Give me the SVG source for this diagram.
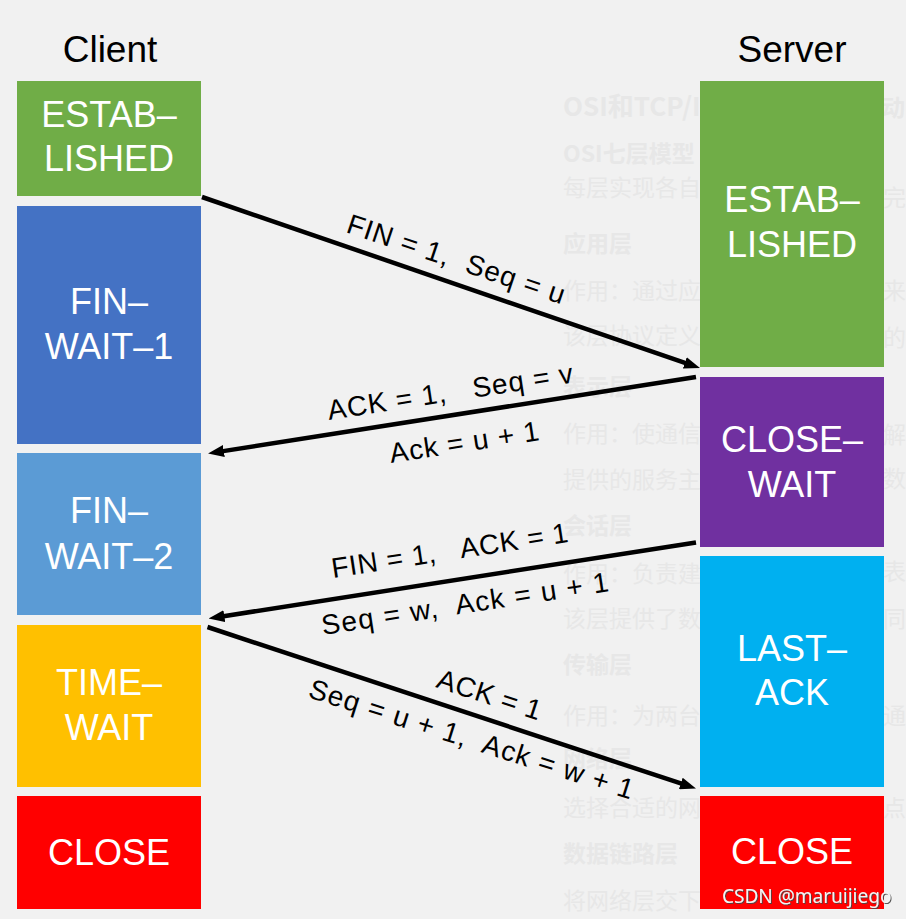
<svg xmlns="http://www.w3.org/2000/svg" width="906" height="919" viewBox="0 0 906 919">
<defs>
<style>
.bg{fill:#f1f1f1}
.wm{font-family:"Noto Sans CJK SC","Liberation Sans",sans-serif;font-size:23px;fill:#e7e7e7}
.wmb{font-weight:bold}
.hd{font-family:"Liberation Sans",Arial,sans-serif;font-size:37px;fill:#000;text-anchor:middle}
.st{font-family:"Liberation Sans",Arial,sans-serif;font-size:36px;fill:#fff;text-anchor:middle}
.lb{font-family:"Liberation Sans",Arial,sans-serif;font-size:28px;fill:#000}
.ar{stroke:#000;stroke-width:4.5;fill:none;marker-end:url(#head)}
.cs{font-family:"Noto Sans","Liberation Sans",sans-serif;font-size:19px;fill:#f4f4f4;filter:url(#sh)}
</style>
<marker id="head" viewBox="0 0 16 12" refX="4" refY="6" markerWidth="16" markerHeight="12" orient="auto" markerUnits="userSpaceOnUse">
<path d="M0,0 L16,6 L0,12 z" fill="#000"/>
</marker>
<filter id="sh" x="-10%" y="-30%" width="120%" height="160%">
<feDropShadow dx="1" dy="1" stdDeviation="0.6" flood-color="#444" flood-opacity="0.9"/>
</filter>
</defs>
<rect class="bg" x="0" y="0" width="906" height="919"/>
<g id="watermark">
<text class="wm wmb" x="563" y="116" style="font-size:26px">OSI和TCP/IP</text>
<text class="wm wmb" x="882" y="116">动</text>
<text class="wm wmb" x="563" y="162">OSI七层模型</text>
<text class="wm" x="563" y="196">每层实现各自</text>
<text class="wm" x="883" y="206">完</text>
<text class="wm wmb" x="563" y="252">应用层</text>
<text class="wm" x="563" y="299">作用：通过应</text>
<text class="wm" x="883" y="299">来</text>
<text class="wm" x="563" y="344">该层协议定义</text>
<text class="wm" x="883" y="346">的</text>
<text class="wm wmb" x="563" y="395">表示层</text>
<text class="wm" x="563" y="442">作用：使通信</text>
<text class="wm" x="883" y="443">解</text>
<text class="wm" x="563" y="488">提供的服务主</text>
<text class="wm" x="883" y="487">数</text>
<text class="wm wmb" x="563" y="534">会话层</text>
<text class="wm" x="563" y="582">作用：负责建</text>
<text class="wm" x="883" y="580">表</text>
<text class="wm" x="563" y="627">该层提供了数</text>
<text class="wm" x="883" y="627">同</text>
<text class="wm wmb" x="563" y="673">传输层</text>
<text class="wm" x="563" y="724">作用：为两台</text>
<text class="wm" x="883" y="724">通</text>
<text class="wm wmb" x="563" y="767">网络层</text>
<text class="wm" x="563" y="816">选择合适的网</text>
<text class="wm" x="883" y="816">点</text>
<text class="wm wmb" x="563" y="862">数据链路层</text>
<text class="wm" x="563" y="909">将网络层交下</text>
</g>
<g id="headers">
<text class="hd" x="110" y="62">Client</text>
<text class="hd" x="792" y="62">Server</text>
</g>
<g id="client-established">
<rect x="17" y="81" width="184" height="115" fill="#70ad47"/>
<text class="st" x="109" y="127">ESTAB–</text>
<text class="st" x="109" y="171">LISHED</text>
</g>
<g id="client-fin-wait-1">
<rect x="17" y="206" width="184" height="238" fill="#4472c4"/>
<text class="st" x="109" y="314">FIN–</text>
<text class="st" x="109" y="359">WAIT–1</text>
</g>
<g id="client-fin-wait-2">
<rect x="17" y="453" width="184" height="162" fill="#5b9bd5"/>
<text class="st" x="109" y="523">FIN–</text>
<text class="st" x="109" y="569">WAIT–2</text>
</g>
<g id="client-time-wait">
<rect x="17" y="625" width="184" height="162" fill="#ffc000"/>
<text class="st" x="109" y="695">TIME–</text>
<text class="st" x="109" y="740">WAIT</text>
</g>
<g id="client-close">
<rect x="17" y="796" width="184" height="113" fill="#ff0000"/>
<text class="st" x="109" y="865">CLOSE</text>
</g>
<g id="server-established">
<rect x="700" y="81" width="184" height="286" fill="#70ad47"/>
<text class="st" x="792" y="212">ESTAB–</text>
<text class="st" x="792" y="257">LISHED</text>
</g>
<g id="server-close-wait">
<rect x="700" y="377" width="184" height="170" fill="#7030a0"/>
<text class="st" x="792" y="452">CLOSE–</text>
<text class="st" x="792" y="497">WAIT</text>
</g>
<g id="server-last-ack">
<rect x="700" y="556" width="184" height="231" fill="#00b0f0"/>
<text class="st" x="792" y="661">LAST–</text>
<text class="st" x="792" y="705">ACK</text>
</g>
<g id="server-close">
<rect x="700" y="796" width="184" height="113" fill="#ff0000"/>
<text class="st" x="792" y="864">CLOSE</text>
</g>
<g id="connectors">
<line class="ar" x1="202" y1="197" x2="688.6" y2="364.1"/>
<line class="ar" x1="696" y1="377" x2="219.9" y2="451.6"/>
<line class="ar" x1="696" y1="542.5" x2="220.4" y2="616.7"/>
<line class="ar" x1="207.5" y1="627" x2="684.6" y2="784.7"/>
<text class="lb" xml:space="preserve" transform="translate(345,232) rotate(18.5)" textLength="228" lengthAdjust="spacing">FIN = 1,  Seq = u</text>
<text class="lb" xml:space="preserve" transform="translate(329,420) rotate(-8.7)" textLength="248" lengthAdjust="spacing">ACK = 1,   Seq = v</text>
<text class="lb" xml:space="preserve" transform="translate(391,463) rotate(-8.7)" textLength="151" lengthAdjust="spacing">Ack = u + 1</text>
<text class="lb" xml:space="preserve" transform="translate(333,578) rotate(-8.7)" textLength="239" lengthAdjust="spacing">FIN = 1,   ACK = 1</text>
<text class="lb" xml:space="preserve" transform="translate(323,635) rotate(-8.7)" textLength="290" lengthAdjust="spacing">Seq = w,  Ack = u + 1</text>
<text class="lb" xml:space="preserve" transform="translate(435,687) rotate(18)" textLength="108" lengthAdjust="spacing">ACK = 1</text>
<text class="lb" xml:space="preserve" transform="translate(307,697) rotate(17.6)" textLength="339" lengthAdjust="spacing">Seq = u + 1,  Ack = w + 1</text>
</g>
<text class="cs" x="722" y="903">CSDN @maruijiego</text>
</svg>
